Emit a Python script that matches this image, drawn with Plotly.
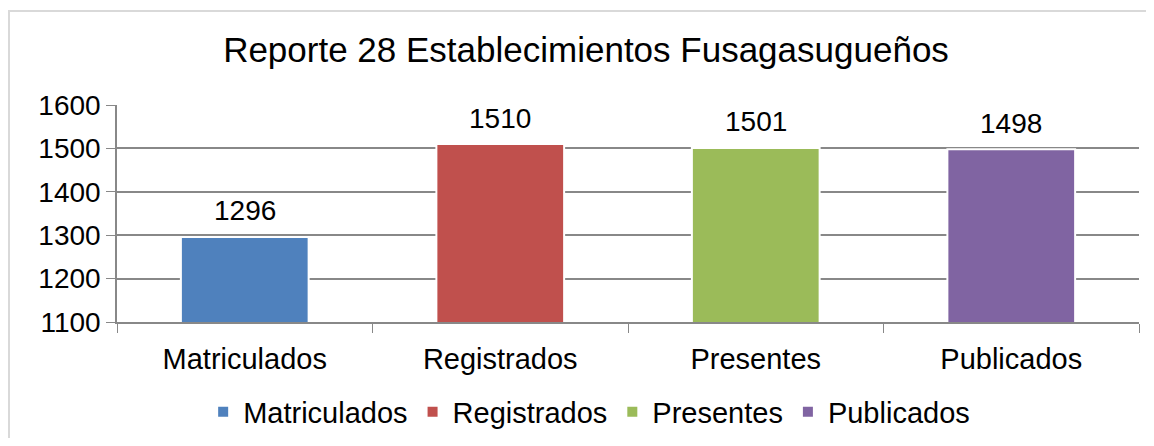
import plotly.graph_objects as go

categorias = ['Matriculados', 'Registrados', 'Presentes', 'Publicados']
valores = [1296, 1510, 1501, 1498]
colores = ['#4f81bd', '#c0504d', '#9bbb59', '#8064a2']

# page has an 8px body margin, so the figure is sized/offset accordingly
W, H = 1138, 430
L, R, T, B = 109, 7, 97, 116
pw, ph = W - L - R, H - T - B

fig = go.Figure()
for cat, val, col in zip(categorias, valores, colores):
    fig.add_trace(go.Bar(x=[cat], y=[val], name=cat, marker_color=col,
                         marker_line=dict(color='white', width=2),
                         width=0.5, hoverinfo='x+y'))
    fig.add_annotation(x=cat, y=val, text=str(val), showarrow=False,
                       yshift=26, font=dict(size=28, color='black'))

fig.update_layout(
    width=W, height=H,
    margin=dict(l=L, r=R, t=T, b=B, autoexpand=False),
    paper_bgcolor='white', plot_bgcolor='white',
    font=dict(family='Liberation Sans, Arial', color='black', size=29),
    title=dict(text='Reporte 28 Establecimientos Fusagasugueños', xref='container', x=578 / W,
               xanchor='center', yref='container', y=1 - 42 / H, yanchor='middle',
               font=dict(size=35)),
    barmode='overlay',
    showlegend=True,
    legend=dict(orientation='h', x=0.462, xanchor='center', y=-(404 - T - ph) / ph, yanchor='middle',
                font=dict(size=29), itemsizing='constant'),
)
fig.update_yaxes(range=[1100, 1600], dtick=100, showgrid=True, gridcolor='#888888', gridwidth=1.5,
                 ticks='outside', ticklen=9, tickcolor='#888888', showline=True, linecolor='#888888',
                 linewidth=1.5, zeroline=False, tickfont=dict(size=28), automargin=False)
fig.update_xaxes(showline=True, linecolor='#888888', linewidth=1.5, ticks='outside', ticklen=9,
                 tickcolor='#888888', tickson='boundaries', tickfont=dict(size=29),
                 ticklabelstandoff=10, range=[-0.5, 3.5], automargin=False)
fig.add_shape(type='rect', xref='paper', yref='paper',
              x0=(1 - L) / pw, x1=(W + 20 - L) / pw,
              y0=-(H + 20 - T - ph) / ph, y1=1 + (T - 3) / ph,
              line=dict(color='#d9d9d9', width=2))

fig.write_html('out.html')
